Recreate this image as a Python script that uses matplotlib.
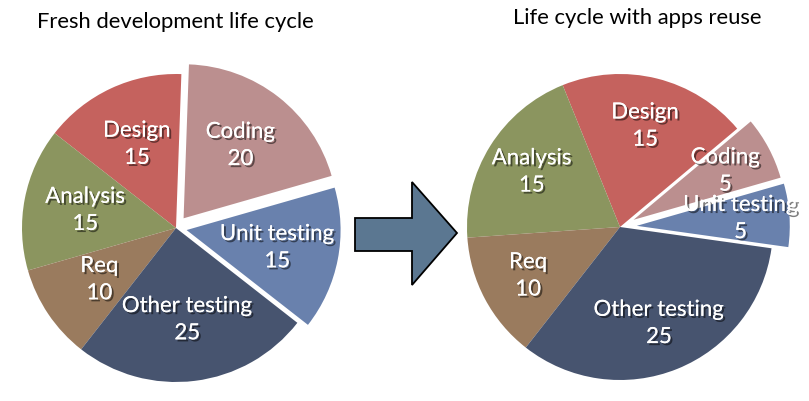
import numpy as np
import matplotlib
matplotlib.use("Agg")
import matplotlib.pyplot as plt
import matplotlib.patheffects as pe
from matplotlib.patches import Polygon

# phases, counter-clockwise from the top
phases = ["Design", "Analysis", "Req", "Other testing", "Unit testing", "Coding"]
fresh_effort = [15, 15, 10, 25, 15, 20]
reuse_effort = [15, 15, 10, 25, 5, 5]
colors = ["#c5625e", "#8b955f", "#9a7b5e", "#47546f", "#6981ad", "#bb8f8f"]

plt.rcParams['font.family'] = ['Lato', 'DejaVu Sans']

fig = plt.figure(figsize=(8.09, 4.01), dpi=100)
W, H = 809, 401

def pie_axes(cx, cy, r, lim):
    # place an axes so that unit radius = r pixels around (cx, cy)
    half = lim * r
    return fig.add_axes([(cx - half) / W, (H - cy - half) / H, 2 * half / W, 2 * half / H])

def draw_pie(ax, values, explode, start, ldist, lim):
    labels = [f"{p}\n{v}" for p, v in zip(phases, values)]
    wedges, texts = ax.pie(values, labels=labels, colors=colors, explode=explode,
                           startangle=start, counterclock=True, labeldistance=ldist,
                           wedgeprops=dict(linewidth=0))
    for t in texts:
        t.set_horizontalalignment('center')
        t.set_verticalalignment('center')
        t.set_color('white')
        t.set_fontsize(16)
        t.set_linespacing(1.45)
        t.set_path_effects([pe.withSimplePatchShadow(offset=(1.5, -1.5), shadow_rgbFace='black', alpha=0.5),
                            pe.Normal()])
    ax.set_xlim(-lim, lim)
    ax.set_ylim(-lim, lim)
    ax.set_aspect('equal')
    ax.axis('off')

ax1 = pie_axes(176, 228, 154, 1.2)
draw_pie(ax1, fresh_effort, [0, 0, 0, 0, 0.07, 0.08], 88, 0.6, 1.2)

ax2 = pie_axes(620, 227, 153, 1.2)
draw_pie(ax2, reuse_effort, [0, 0, 0, 0, 0.11, 0.1], 40, 0.68, 1.2)

fig.text(175 / W, 1 - 22 / H, "Fresh development life cycle", ha='center', va='center',
         fontsize=15.8, color='black')
fig.text(637 / W, 1 - 18 / H, "Life cycle with apps reuse", ha='center', va='center',
         fontsize=15.8, color='black')

# block arrow between the pies
bg = fig.add_axes([0, 0, 1, 1], zorder=-1)
bg.set_xlim(0, W)
bg.set_ylim(H, 0)
bg.axis('off')
arrow = [(355, 218), (412, 218), (412, 182), (457, 233), (412, 285), (412, 251), (355, 251)]
bg.add_patch(Polygon(arrow, closed=True, facecolor='#5b7791', edgecolor='black', linewidth=1.3))

fig.savefig("out.png", dpi=100)
